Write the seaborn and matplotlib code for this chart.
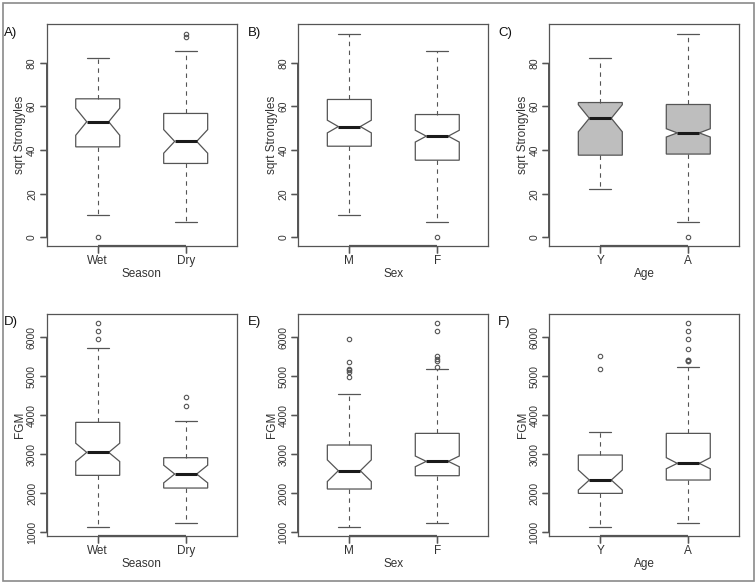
import matplotlib
matplotlib.use("Agg")
import matplotlib.pyplot as plt
import seaborn as sns
from matplotlib.patches import Rectangle

# categories
season = ["Wet", "Dry"]
sex = ["M", "F"]
age = ["Y", "A"]

# box values per group: whisker low, q1, median, q3, whisker high
# notch = (lower, upper) of the median confidence interval

# A) sqrt Strongyles by Season
a_box = [[10.1, 41.5, 53.0, 63.5, 82.4], [7.0, 33.9, 44.0, 56.8, 85.5]]
a_notch = [(46.8, 59.2), (38.6, 49.4)]
a_fliers = [[0.0], [91.9, 93.4]]

# B) sqrt Strongyles by Sex
b_box = [[10.1, 41.8, 50.8, 63.2, 93.4], [7.0, 35.4, 46.4, 56.3, 85.3]]
b_notch = [(47.9, 53.7), (43.7, 49.1)]
b_fliers = [[], [0.0]]

# C) sqrt Strongyles by Age
c_box = [[22.3, 37.7, 54.6, 61.8, 82.4], [7.0, 38.2, 47.9, 60.9, 93.4]]
c_notch = [(48.4, 60.8), (46.0, 49.8)]
c_fliers = [[], [0.0]]

# D) FGM by Season
d_box = [[1120, 2456, 3046, 3817, 5718], [1223, 2130, 2490, 2909, 3860]]
d_notch = [(2811, 3281), (2263, 2717)]
d_fliers = [[5957, 6171, 6377], [4245, 4459]]

# E) FGM by Sex
e_box = [[1120, 2105, 2575, 3235, 4553], [1223, 2447, 2815, 3534, 5178]]
e_notch = [(2297, 2853), (2678, 2952)]
e_fliers = [[4990, 5100, 5150, 5180, 5375, 5960],
            [5230, 5400, 5450, 5520, 6170, 6380]]

# F) FGM by Age
f_box = [[1120, 1993, 2336, 2978, 3560], [1223, 2336, 2764, 3534, 5230]]
f_notch = [(2079, 2593), (2625, 2910)]
f_fliers = [[5178, 5521], [5384, 5395, 5410, 5418, 5700, 5957, 6171, 6377]]

str_ticks = [0, 20, 40, 60, 80]
fgm_ticks = [1000, 2000, 3000, 4000, 5000, 6000]

LINE = "#555555"
TEXT = "#333333"

sns.set_style("ticks")
plt.rcParams["font.family"] = ["Liberation Sans", "DejaVu Sans"]
plt.rcParams.update({
    "xtick.bottom": True, "ytick.left": True,
    "xtick.direction": "out", "ytick.direction": "out",
    "xtick.major.size": 5, "ytick.major.size": 5,
    "xtick.major.width": 0.9, "ytick.major.width": 0.9,
    "xtick.color": LINE, "ytick.color": LINE,
    "xtick.labelcolor": TEXT, "ytick.labelcolor": TEXT,
})

W, H = 756, 583
TICK_PX = 7
fig = plt.figure(figsize=(W / 100, H / 100), dpi=100)


def draw_panel(rect, cats, box, notch, fliers, ticks, ylim, xlabel, ylabel, fill):
    ax = fig.add_axes(rect)
    stats = []
    for c, b, n, f in zip(cats, box, notch, fliers):
        stats.append(dict(label=c, whislo=b[0], q1=b[1], med=b[2], q3=b[3],
                          whishi=b[4], cilo=n[0], cihi=n[1], fliers=f))
    pos = list(range(1, len(cats) + 1))
    ax.bxp(stats, positions=pos, widths=0.5, capwidths=0.25,
           shownotches=True, patch_artist=True,
           boxprops=dict(facecolor=fill, edgecolor=LINE, linewidth=0.9),
           whiskerprops=dict(color=LINE, linewidth=0.8, linestyle=(0, (4, 4))),
           capprops=dict(color=LINE, linewidth=0.9),
           medianprops=dict(color="#1a1a1a", linewidth=2.2, solid_capstyle="butt"),
           flierprops=dict(marker="o", markerfacecolor="none", markeredgecolor=LINE,
                           markersize=3.2, markeredgewidth=0.8))
    ax.set_xlim(0.42, len(cats) + 0.58)
    ax.set_ylim(*ylim)
    ax.set_yticks(ticks)
    ax.set_yticklabels([str(t) for t in ticks], rotation=90, va="center")
    ax.tick_params(axis="x", labelsize=8.5, pad=2)
    ax.tick_params(axis="y", labelsize=7.5, pad=2)
    for sp in ax.spines.values():
        sp.set_visible(True)
        sp.set_color(LINE)
        sp.set_linewidth(0.9)
    # R style axis lines running between the outer ticks, with tick marks
    ax.plot([pos[0], pos[-1]], [0, 0], transform=ax.get_xaxis_transform(),
            color=LINE, lw=1.6, clip_on=False, solid_capstyle="butt")
    ax.plot([0, 0], [ticks[0], ticks[-1]], transform=ax.get_yaxis_transform(),
            color=LINE, lw=1.4, clip_on=False, solid_capstyle="butt")
    ax.vlines(pos, -TICK_PX / (rect[3] * H), 0, transform=ax.get_xaxis_transform(),
              color=LINE, lw=1.0, clip_on=False)
    ax.hlines(ticks, -TICK_PX / (rect[2] * W), 0, transform=ax.get_yaxis_transform(),
              color=LINE, lw=1.0, clip_on=False)
    ax.set_xlabel(xlabel, fontsize=8.5, color=TEXT, labelpad=0.5)
    ax.set_ylabel(ylabel, fontsize=8.5, color=TEXT, labelpad=0.5)
    return ax


lefts = [46.7, 298.3, 549.3]
tops = [24, 314]
aw, ah = 190, 221.7


def rect(col, row):
    return [lefts[col] / W, 1 - (tops[row] + ah) / H, aw / W, ah / H]


str_lim = (-3.76, 97.76)
fgm_lim = (906, 6600)

draw_panel(rect(0, 0), season, a_box, a_notch, a_fliers, str_ticks, str_lim, "Season", "sqrt Strongyles", "white")
draw_panel(rect(1, 0), sex, b_box, b_notch, b_fliers, str_ticks, str_lim, "Sex", "sqrt Strongyles", "white")
draw_panel(rect(2, 0), age, c_box, c_notch, c_fliers, str_ticks, str_lim, "Age", "sqrt Strongyles", "#bebebe")
draw_panel(rect(0, 1), season, d_box, d_notch, d_fliers, fgm_ticks, fgm_lim, "Season", "FGM", "white")
draw_panel(rect(1, 1), sex, e_box, e_notch, e_fliers, fgm_ticks, fgm_lim, "Sex", "FGM", "white")
draw_panel(rect(2, 1), age, f_box, f_notch, f_fliers, fgm_ticks, fgm_lim, "Age", "FGM", "white")

# panel tags
tags = ["A)", "B)", "C)", "D)", "E)", "F)"]
tag_x = [4, 248, 498]
tag_y = [33, 322]
for i, t in enumerate(tags):
    fig.text(tag_x[i % 3] / W, 1 - tag_y[i // 3] / H, t, fontsize=9.5,
             color="#111111", ha="left", va="center")

# outer frame of the figure
fig.add_artist(Rectangle((2.5 / W, 2.5 / H), 751.8 / W, 578 / H,
                         transform=fig.transFigure, fill=False,
                         edgecolor="#8a8a8a", linewidth=1.2))

fig.savefig("out.png", dpi=100)
